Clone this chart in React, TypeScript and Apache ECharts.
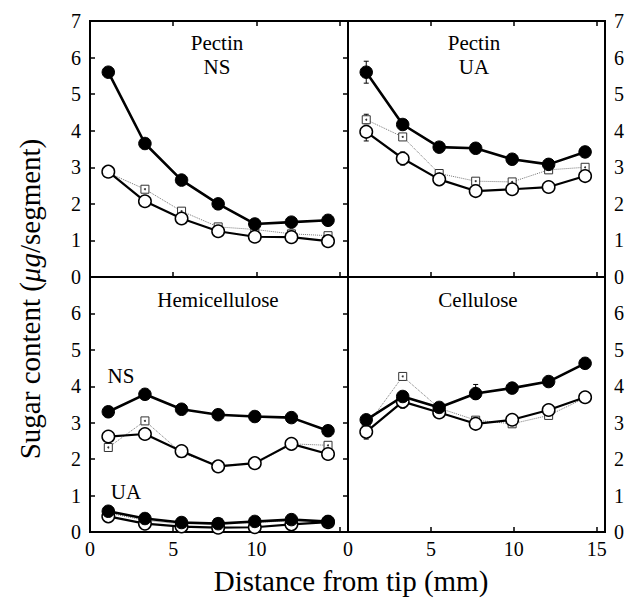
import React, { useEffect, useRef } from "react";
import * as echarts from "echarts";

// ---- data ----
const distance = [1.1, 3.3, 5.5, 7.7, 9.9, 12.1, 14.3];
const xTicks = [0, 5, 10, 15];
const yTicks = [0, 1, 2, 3, 4, 5, 6, 7];

const pectinNSFilled = [5.6, 3.65, 2.65, 2.0, 1.45, 1.5, 1.55];
const pectinNSOpen = [2.88, 2.07, 1.6, 1.25, 1.1, 1.09, 0.98];
const pectinNSSquare = [2.85, 2.4, 1.8, 1.37, 1.3, 1.18, 1.13];

const pectinUAFilled = [5.6, 4.17, 3.55, 3.52, 3.22, 3.08, 3.42];
const pectinUAOpen = [3.97, 3.24, 2.67, 2.35, 2.4, 2.46, 2.76];
const pectinUASquare = [4.3, 3.83, 2.83, 2.62, 2.6, 2.93, 3.0];
const pectinUAErr = [
  [1.1, 5.3, 5.9],
  [1.1, 3.72, 4.15],
  [3.3, 3.06, 3.42],
  [1.1, 4.2, 4.45],
  [5.5, 2.5, 2.8],
];

const hemiNSFilled = [3.3, 3.78, 3.37, 3.22, 3.17, 3.14, 2.78];
const hemiNSOpen = [2.62, 2.69, 2.22, 1.8, 1.89, 2.42, 2.14];
const hemiNSSquare = [2.32, 3.05, 2.17, 1.83, 1.86, 2.42, 2.38];
const hemiUAFilled = [0.57, 0.37, 0.26, 0.23, 0.29, 0.34, 0.29];
const hemiUAOpen = [0.43, 0.23, 0.15, 0.12, 0.13, 0.21, 0.27];
const hemiUASquare = [0.52, 0.32, 0.22, 0.26, 0.25, 0.32, 0.3];
const hemiErr = [[9.9, 0.05, 0.22]];

const celluloseFilled = [3.08, 3.72, 3.42, 3.8, 3.95, 4.13, 4.63];
const celluloseOpen = [2.75, 3.58, 3.28, 2.97, 3.08, 3.35, 3.7];
const celluloseSquare = [2.9, 4.27, 3.4, 3.07, 2.97, 3.2, 3.68];
const celluloseErr = [
  [7.7, 3.64, 4.05],
  [3.3, 3.4, 3.75],
  [1.1, 2.55, 2.95],
];

const FONT = "Liberation Serif, DejaVu Serif, serif";

const pairs = (ys: number[]) => distance.map((x, i) => [x, ys[i]]);

function panelSeries(
  grid: number,
  xIdx: number,
  filled: number[],
  open: number[],
  square: number[]
) {
  const base = { xAxisIndex: xIdx, yAxisIndex: grid, silent: true };
  return [
    {
      ...base,
      type: "line",
      data: pairs(square),
      symbol: "rect",
      symbolSize: 8,
      itemStyle: { color: "#fff", borderColor: "#333", borderWidth: 1 },
      lineStyle: { color: "#777", width: 1, type: "dotted" },
      z: 2,
    },
    {
      ...base,
      type: "scatter",
      data: pairs(square),
      symbol: "circle",
      symbolSize: 2,
      itemStyle: { color: "#000" },
      z: 2,
    },
    {
      ...base,
      type: "line",
      data: pairs(open),
      symbol: "circle",
      symbolSize: 12.5,
      itemStyle: { color: "#fff", borderColor: "#000", borderWidth: 1.5 },
      lineStyle: { color: "#000", width: 2.2 },
      z: 3,
    },
    {
      ...base,
      type: "line",
      data: pairs(filled),
      symbol: "circle",
      symbolSize: 12.5,
      itemStyle: { color: "#000", borderColor: "#000", borderWidth: 1 },
      lineStyle: { color: "#000", width: 2.6 },
      z: 4,
    },
  ];
}

function errSeries(grid: number, xIdx: number, errs: number[][]) {
  return {
    type: "custom",
    xAxisIndex: xIdx,
    yAxisIndex: grid,
    silent: true,
    data: errs,
    z: 1,
    renderItem: (params: any, api: any) => {
      const x = api.value(0);
      const lo = api.coord([x, api.value(1)]);
      const hi = api.coord([x, api.value(2)]);
      const s = { stroke: "#000", lineWidth: 1 };
      return {
        type: "group",
        children: [
          { type: "line", shape: { x1: lo[0], y1: lo[1], x2: hi[0], y2: hi[1] }, style: s },
          { type: "line", shape: { x1: lo[0] - 2.5, y1: lo[1], x2: lo[0] + 2.5, y2: lo[1] }, style: s },
          { type: "line", shape: { x1: hi[0] - 2.5, y1: hi[1], x2: hi[0] + 2.5, y2: hi[1] }, style: s },
        ],
      };
    },
  };
}

export default function App() {
  const ref = useRef<HTMLDivElement>(null);
  useEffect(() => {
    if (!ref.current) return;
    const chart = echarts.init(ref.current, undefined, { renderer: "svg" });

    const grids = [
      { left: 90, top: 21, width: 258, height: 256 },
      { left: 348, top: 21, width: 257, height: 256 },
      { left: 90, top: 277, width: 258, height: 255 },
      { left: 348, top: 277, width: 257, height: 255 },
    ].map((g) => ({
      ...g,
      show: true,
      borderColor: "#000",
      borderWidth: 2,
      backgroundColor: "transparent",
      containLabel: false,
    }));

    const tickStyle = { color: "#000", width: 1.5 };
    const labelBase = { color: "#000", fontFamily: FONT, fontSize: 20 };

    const xAxes: any[] = [];
    for (let g = 0; g < 4; g++) {
      const bottomRow = g >= 2;
      xAxes.push({
        type: "value",
        gridIndex: g,
        position: "bottom",
        min: 0,
        max: 15.5,
        interval: 5,
        axisLine: { show: false },
        axisTick: { show: true, inside: true, length: 5, lineStyle: tickStyle },
        axisLabel: {
          show: bottomRow,
          ...labelBase,
          margin: 7,
          formatter: (v: number) => {
            if (!xTicks.includes(v)) return "";
            if (g === 2 && v === 15) return "";
            return String(v);
          },
        },
        splitLine: { show: false },
      });
    }
    for (let g = 0; g < 2; g++) {
      xAxes.push({
        type: "value",
        gridIndex: g,
        position: "top",
        min: 0,
        max: 15.5,
        interval: 5,
        axisLine: { show: false },
        axisTick: { show: true, inside: true, length: 5, lineStyle: tickStyle },
        axisLabel: { show: false },
        splitLine: { show: false },
      });
    }

    const yAxes: any[] = [];
    for (let g = 0; g < 4; g++) {
      const right = g % 2 === 1;
      const bottomRow = g >= 2;
      yAxes.push({
        type: "value",
        gridIndex: g,
        position: right ? "right" : "left",
        min: 0,
        max: 7,
        interval: 1,
        axisLine: { show: false },
        axisTick: { show: true, inside: true, length: 5, lineStyle: tickStyle },
        axisLabel: {
          ...labelBase,
          margin: 9,
          formatter: (v: number) => {
            if (!yTicks.includes(v)) return "";
            if (bottomRow && v === 7) return "";
            return String(v);
          },
        },
        splitLine: { show: false },
      });
    }

    const series: any[] = [
      ...panelSeries(0, 0, pectinNSFilled, pectinNSOpen, pectinNSSquare),
      errSeries(1, 1, pectinUAErr),
      ...panelSeries(1, 1, pectinUAFilled, pectinUAOpen, pectinUASquare),
      errSeries(2, 2, hemiErr),
      ...panelSeries(2, 2, hemiNSFilled, hemiNSOpen, hemiNSSquare),
      ...panelSeries(2, 2, hemiUAFilled, hemiUAOpen, hemiUASquare),
      errSeries(3, 3, celluloseErr),
      ...panelSeries(3, 3, celluloseFilled, celluloseOpen, celluloseSquare),
    ];

    const txt = (x: number, y: number, text: string, size = 21) => ({
      type: "text",
      x,
      y,
      silent: true,
      style: {
        text,
        fill: "#000",
        fontSize: size,
        fontFamily: FONT,
        align: "center",
        verticalAlign: "middle",
      },
    });

    chart.setOption({
      animation: false,
      backgroundColor: "#fff",
      grid: grids,
      xAxis: xAxes,
      yAxis: yAxes,
      series,
      graphic: [
        txt(217, 43, "Pectin"),
        txt(217, 67, "NS"),
        txt(474, 43, "Pectin"),
        txt(474, 67, "UA"),
        txt(218, 300, "Hemicellulose"),
        txt(478, 300, "Cellulose"),
        txt(121, 376, "NS"),
        txt(126, 492, "UA"),
        txt(351, 581, "Distance from tip (mm)", 29),
        {
          type: "text",
          x: 30,
          y: 299,
          rotation: Math.PI / 2,
          silent: true,
          style: {
            text: "Sugar content ({it|μg}/segment)",
            fill: "#000",
            fontSize: 29,
            fontFamily: FONT,
            align: "center",
            verticalAlign: "middle",
            rich: {
              it: { fontStyle: "italic", fontSize: 29, fontFamily: FONT, fill: "#000" },
            },
          },
        },
      ],
    });
    return () => chart.dispose();
  }, []);
  return (
    <div
      ref={ref}
      style={{ position: "absolute", left: 0, top: 0, width: 627, height: 604 }}
    />
  );
}
